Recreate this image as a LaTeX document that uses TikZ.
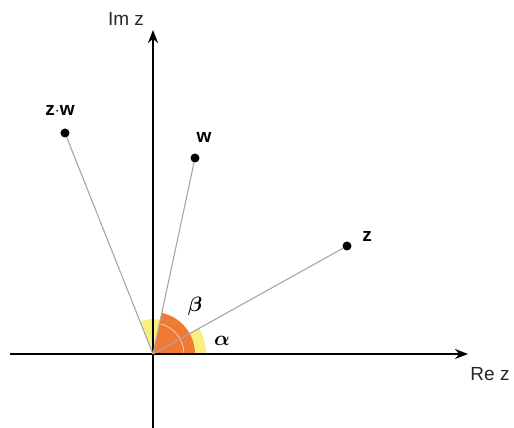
\documentclass[tikz,border=0pt]{standalone}
\usepackage{amsmath}
\usepackage{fontspec}
\setmainfont{Liberation Sans}
\usetikzlibrary{arrows.meta}
\definecolor{sectororange}{RGB}{240,122,52}
\definecolor{sectoryellow}{RGB}{250,238,130}

\begin{document}
\begin{tikzpicture}[
    x=1pt, y=1pt,
    axis/.style={-{Stealth[length=13pt,width=10pt]}, line width=2.8pt},
    ray/.style={gray!70, line width=1.1pt},
    dot/.style={circle, fill=black, inner sep=0pt, minimum size=9pt},
    lbl/.style={font=\fontsize{19}{22}\selectfont\bfseries},
    axlbl/.style={font=\fontsize{19}{22}\selectfont, text=black!85}
]
    \useasboundingbox (0,0) rectangle (514,428);

    % Points
    \coordinate (O) at (153,74);
    \node[dot] (zw) at (65,295) {};
    \node[dot] (w) at (195,270) {};
    \node[dot] (z) at (347,182) {};

    % Sectors
    \fill[sectoryellow] (O) -- ++(0:53) arc (0:29.1:53) -- cycle;
    \fill[sectoryellow] (O) -- ++(77.9:35) arc (77.9:111.7:35) -- cycle;
    \fill[sectororange] (O) -- ++(0:42) arc (0:77.9:42) -- cycle;
    \draw[white!60!sectororange, line width=0.8pt] (O) ++(0:31) arc (0:75:31);

    % Axes
    \coordinate (xl) at (10,74);
    \coordinate (xr) at (468,74);
    \coordinate (yb) at (153,0);
    \coordinate (yt) at (153,398);
    \draw[axis] (xl) -- (xr);
    \draw[axis] (yb) -- (yt);

    % Rays
    \draw[ray] (O) -- (zw);
    \draw[ray] (O) -- (w);
    \draw[ray] (O) -- (z);

    % Labels
    \node[axlbl] (imz) at (126,409) {Im z};
    \node[axlbl] (rez) at (490,54) {Re z};
    \node[lbl] (zwlbl) at (60,318) {z$\cdot$w};
    \node[lbl] (wlbl) at (204,291) {w};
    \node[lbl] (zlbl) at (367,192) {z};
    \node[font=\fontsize{20}{22}\selectfont] (beta) at (195,122) {$\boldsymbol{\beta}$};
    \node[font=\fontsize{20}{22}\selectfont] (alpha) at (222,87) {$\boldsymbol{\alpha}$};
\end{tikzpicture}
\end{document}
